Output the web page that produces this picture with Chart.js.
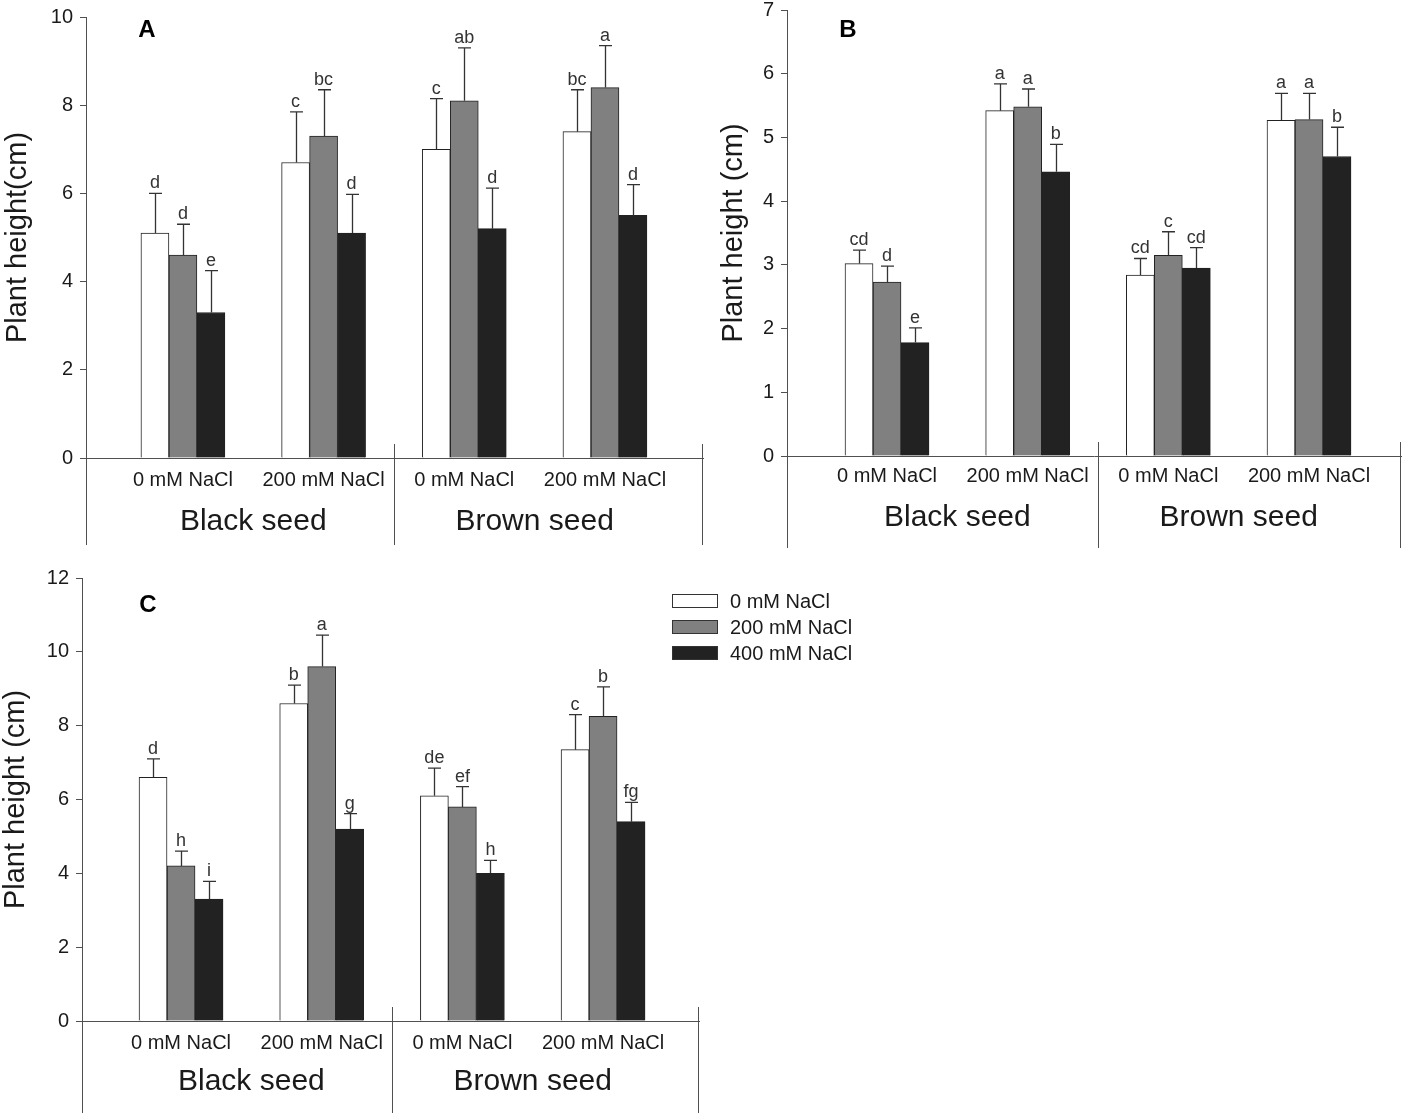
<!DOCTYPE html>
<html><head><meta charset="utf-8">
<script src="https://cdn.jsdelivr.net/npm/chart.js@4/dist/chart.umd.min.js"></script>
<style>
html,body{margin:0;padding:0;background:#fff;width:1408px;height:1116px;overflow:hidden;position:relative}
canvas{position:absolute}
</style></head><body>
<canvas id="cA" width="708" height="552" style="left:0px;top:0px"></canvas>
<canvas id="cB" width="704" height="566" style="left:704px;top:-10px"></canvas>
<canvas id="cC" width="900" height="556" style="left:0px;top:560px"></canvas>
<script>
// ---- data ----
const categoryLabels = ['0 mM NaCl', '200 mM NaCl', '0 mM NaCl', '200 mM NaCl'];
const categoryPositions = [1, 2, 3, 4];
const seedGroups = ['Black seed', 'Brown seed'];
const seedGroupPositions = [1.5, 3.5];
const seriesNames = ['0 mM NaCl', '200 mM NaCl', '400 mM NaCl'];

// Panel A
const aValues0 = [5.1, 6.7, 7.0, 7.4];
const aValues200 = [4.6, 7.3, 8.1, 8.4];
const aValues400 = [3.3, 5.1, 5.2, 5.5];
const aErr0 = [0.9, 1.15, 1.15, 0.95];
const aErr200 = [0.7, 1.05, 1.2, 0.95];
const aErr400 = [0.95, 0.88, 0.92, 0.7];
const aLetters0 = ['d', 'c', 'c', 'bc'];
const aLetters200 = ['d', 'bc', 'ab', 'a'];
const aLetters400 = ['e', 'd', 'd', 'd'];

// Panel B
const bValues0 = [3.02, 5.42, 2.84, 5.27];
const bValues200 = [2.73, 5.48, 3.15, 5.28];
const bValues400 = [1.78, 4.46, 2.95, 4.70];
const bErr0 = [0.21, 0.42, 0.26, 0.42];
const bErr200 = [0.25, 0.28, 0.37, 0.41];
const bErr400 = [0.23, 0.43, 0.32, 0.46];
const bLetters0 = ['cd', 'a', 'cd', 'a'];
const bLetters200 = ['d', 'a', 'c', 'a'];
const bLetters400 = ['e', 'b', 'cd', 'b'];

// Panel C
const cValues0 = [6.6, 8.6, 6.1, 7.35];
const cValues200 = [4.2, 9.6, 5.8, 8.25];
const cValues400 = [3.3, 5.2, 4.0, 5.4];
const cErr0 = [0.5, 0.5, 0.75, 0.95];
const cErr200 = [0.4, 0.85, 0.55, 0.8];
const cErr400 = [0.48, 0.42, 0.35, 0.52];
const cLetters0 = ['d', 'b', 'de', 'c'];
const cLetters200 = ['h', 'a', 'ef', 'b'];
const cLetters400 = ['i', 'g', 'h', 'fg'];

// ---- styles ----
const FONT = '"Liberation Sans", Arial, Helvetica, sans-serif';
const fills = ['#ffffff', '#808080', '#222222'];
const AXIS = '#505050';
const TEXT = '#1a1a1a';

function makePanel(id, p) {
  const series = [
    { name: seriesNames[0], values: p.v0, errors: p.e0, letters: p.l0 },
    { name: seriesNames[1], values: p.v200, errors: p.e200, letters: p.l200 },
    { name: seriesNames[2], values: p.v400, errors: p.e400, letters: p.l400 }
  ];
  const decor = {
    id: 'decor' + id,
    afterDatasetsDraw(chart) {
      const ctx = chart.ctx;
      const ys = chart.scales.y;
      ctx.save();
      series.forEach((s, di) => {
        const meta = chart.getDatasetMeta(di);
        meta.data.forEach((bar, i) => {
          const base = ys.getPixelForValue(s.values[i]);
          const top = ys.getPixelForValue(s.values[i] + s.errors[i]);
          const x = Math.round(bar.x) + 0.5;
          ctx.strokeStyle = '#333';
          ctx.lineWidth = 1.3;
          ctx.beginPath();
          ctx.moveTo(x, base);
          ctx.lineTo(x, top);
          ctx.moveTo(x - 6.5, top);
          ctx.lineTo(x + 6.5, top);
          ctx.stroke();
          ctx.fillStyle = '#333';
          ctx.font = '18px ' + FONT;
          ctx.textAlign = 'center';
          ctx.textBaseline = 'alphabetic';
          ctx.fillText(s.letters[i], bar.x, top - 5);
        });
      });
      ctx.restore();
    },
    afterDraw(chart) {
      const ctx = chart.ctx;
      const xs = chart.scales.x;
      const area = chart.chartArea;
      ctx.save();
      ctx.strokeStyle = AXIS;
      ctx.lineWidth = 1;
      ctx.beginPath();
      const l = Math.round(area.left) + 0.5;
      ctx.moveTo(l, area.bottom);
      ctx.lineTo(l, p.lineEnd);
      const m = Math.round(xs.getPixelForValue(2.5)) + 0.5;
      ctx.moveTo(m, area.bottom - 14);
      ctx.lineTo(m, p.lineEnd);
      const r = Math.round(area.right) - 0.5;
      ctx.moveTo(r, area.bottom - 14);
      ctx.lineTo(r, p.lineEnd);
      ctx.stroke();
      // group labels
      ctx.fillStyle = TEXT;
      ctx.font = '30px ' + FONT;
      ctx.textAlign = 'center';
      ctx.textBaseline = 'middle';
      seedGroups.forEach((g, i) => {
        ctx.fillText(g, xs.getPixelForValue(seedGroupPositions[i]), p.groupY);
      });
      // panel letter
      ctx.fillStyle = '#000';
      ctx.font = 'bold 24px ' + FONT;
      ctx.fillText(p.panel, p.panelX, p.panelY);
      // legend
      if (p.legend) {
        ctx.textAlign = 'left';
        ctx.font = '20px ' + FONT;
        series.forEach((s, i) => {
          const cy = p.legend.y + i * 26;
          ctx.fillStyle = fills[i];
          ctx.fillRect(p.legend.x, cy - 7, 46, 14);
          ctx.strokeStyle = '#333';
          ctx.lineWidth = 1;
          ctx.strokeRect(p.legend.x + 0.5, cy - 6.5, 45, 13);
          ctx.fillStyle = TEXT;
          ctx.fillText(s.name, p.legend.x + 58, cy + 1);
        });
      }
      ctx.restore();
    }
  };

  return new Chart(document.getElementById(id), {
    type: 'bar',
    data: {
      datasets: series.map((s, i) => ({
        label: s.name,
        data: categoryPositions.map((x, k) => ({ x: x, y: s.values[k] })),
        backgroundColor: fills[i],
        borderColor: '#222',
        borderWidth: 1,
        barThickness: 28
      }))
    },
    options: {
      responsive: false,
      animation: false,
      events: [],
      layout: { padding: p.pad },
      plugins: { legend: { display: false }, tooltip: { enabled: false } },
      scales: {
        x: {
          type: 'linear',
          offset: false,
          min: p.xmin,
          max: p.xmax,
          afterBuildTicks: (scale) => { scale.ticks = categoryPositions.map(v => ({ value: v })); },
          afterFit: (scale) => { scale.height = p.xHeight; },
          ticks: {
            autoSkip: false,
            maxRotation: 0,
            padding: p.xTickPad,
            color: TEXT,
            font: { family: FONT, size: 20 },
            callback: (v, i) => categoryLabels[i]
          },
          grid: { display: true, offset: false, drawOnChartArea: false, drawTicks: false },
          border: { display: true, color: AXIS, width: 1 }
        },
        y: {
          min: 0,
          max: p.ymax,
          afterFit: (scale) => { scale.width = p.yWidth; },
          ticks: {
            stepSize: p.step,
            padding: 7,
            color: TEXT,
            font: { family: FONT, size: 20, lineHeight: 1 }
          },
          grid: { display: true, drawOnChartArea: false, drawTicks: true, tickLength: 6, color: AXIS },
          border: { display: true, color: AXIS, width: 1 },
          title: {
            display: true,
            text: p.title,
            color: TEXT,
            font: { family: FONT, size: 29, lineHeight: 1 },
            padding: { top: p.titlePad, bottom: 0 }
          }
        }
      }
    },
    plugins: [decor]
  });
}

makePanel('cA', {
  v0: aValues0, v200: aValues200, v400: aValues400,
  e0: aErr0, e200: aErr200, e400: aErr400,
  l0: aLetters0, l200: aLetters200, l400: aLetters400,
  pad: { left: 0, top: 14, right: 5, bottom: 0 },
  yWidth: 86, xHeight: 94, ymax: 10, step: 2,
  xmin: 0.311, xmax: 4.697, xTickPad: 10,
  title: 'Plant height(cm)', titlePad: 3,
  lineEnd: 545, groupY: 522, panel: 'A', panelX: 147, panelY: 30
});

makePanel('cB', {
  v0: bValues0, v200: bValues200, v400: bValues400,
  e0: bErr0, e200: bErr200, e400: bErr400,
  l0: bLetters0, l200: bLetters200, l400: bLetters400,
  pad: { left: 0, top: 20, right: 7, bottom: 0 },
  yWidth: 83, xHeight: 100, ymax: 7, step: 1,
  xmin: 0.289, xmax: 4.654, xTickPad: 8,
  title: 'Plant height (cm)', titlePad: 15,
  lineEnd: 558, groupY: 528, panel: 'B', panelX: 144, panelY: 40
});

makePanel('cC', {
  v0: cValues0, v200: cValues200, v400: cValues400,
  e0: cErr0, e200: cErr200, e400: cErr400,
  l0: cLetters0, l200: cLetters200, l400: cLetters400,
  pad: { left: 0, top: 18, right: 201, bottom: 0 },
  yWidth: 82, xHeight: 95, ymax: 12, step: 2,
  xmin: 0.296, xmax: 4.682, xTickPad: 10,
  title: 'Plant height (cm)', titlePad: 1,
  lineEnd: 553, groupY: 522, panel: 'C', panelX: 148, panelY: 45,
  legend: { x: 672, y: 41 }
});
</script>
</body></html>
